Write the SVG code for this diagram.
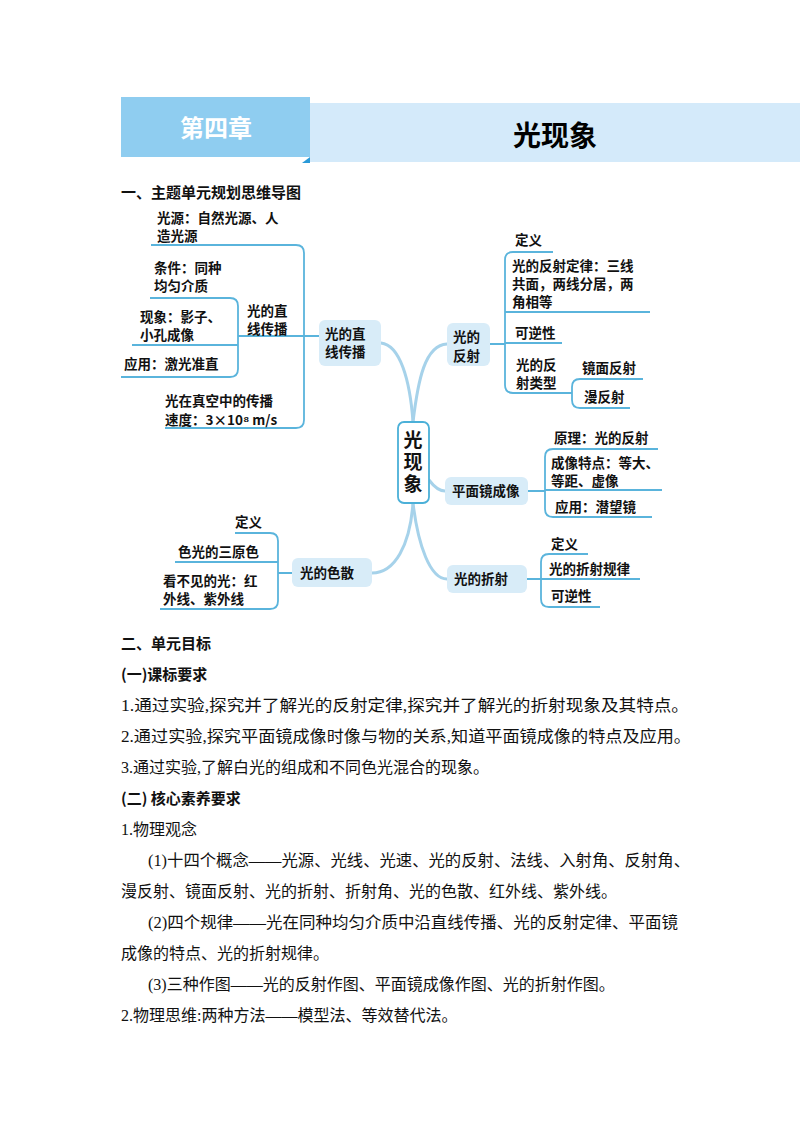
<svg xmlns="http://www.w3.org/2000/svg" width="800" height="1132" viewBox="0 0 800 1132">
<style>
.t{font-family:"Noto Sans CJK SC",sans-serif;font-size:13.5px;font-weight:bold;fill:#111}
.b{font-family:"Liberation Serif","Noto Sans CJK SC",serif;font-size:16px;fill:#111}
.h{font-family:"Noto Sans CJK SC",sans-serif;font-size:15px;font-weight:bold;fill:#111}
.c{font-family:"Noto Sans CJK SC",sans-serif;font-size:19px;font-weight:bold;fill:#111}
.ln{fill:none;stroke:#5ab4dc;stroke-width:1.8}
.br{fill:none;stroke:#a6d2ea;stroke-width:3;stroke-linecap:round}
.nd{fill:#d8ecf8}
</style>
<rect width="800" height="1132" fill="#fff"/>
<g id="header">
<rect x="310" y="103" width="490" height="59" fill="#d4eafa"/>
<rect x="121" y="97" width="189" height="60" fill="#8fcdf0"/>
<polygon points="302,163 310,157 310,163" fill="#2a9ad8"/>
<text x="216" y="137" text-anchor="middle" font-family="Noto Sans CJK SC,sans-serif" font-size="24" font-weight="bold" fill="#fff">第四章</text>
<text x="555" y="146" text-anchor="middle" font-family="Noto Sans CJK SC,sans-serif" font-size="28" font-weight="bold" fill="#000">光现象</text>
</g>
<text class="h" x="121" y="198">一、主题单元规划思维导图</text>
<g id="connectors">
<path class="br" d="M413,422 C410,380 400,345 381,343"/>
<path class="br" d="M413,422 C418,380 425,345 447,344"/>
<path class="br" d="M429,480 C435,488 440,491 445,491"/>
<path class="br" d="M413,503 C410,545 395,573 372,573"/>
<path class="br" d="M413,503 C418,545 430,579 447,579"/>
<path class="ln" d="M381,336 H304 M151,245 H296 Q304,245 304,253 V420 Q304,428 296,428 H165"/>
<path class="ln" d="M150,298 H230 Q238,298 238,306 V369 Q238,377 230,377 H121 M132,345 H238 M238,336 H304"/>
<path class="ln" d="M490,344 H505 M553,252 H513 Q505,252 505,260 V385 Q505,393 513,393 H572 M505,312 H650 M505,343 H562"/>
<path class="ln" d="M643,379 H580 Q572,379 572,387 V400 Q572,408 580,408 H630"/>
<path class="ln" d="M528,491 H545 M658,449 H553 Q545,449 545,457 V509 Q545,517 553,517 H652 M545,490 H662"/>
<path class="ln" d="M527,579 H541 M588,554 H549 Q541,554 541,562 V599 Q541,607 549,607 H600 M541,579 H640"/>
<path class="ln" d="M292,573 H278 M235,533 H270 Q278,533 278,541 V601 Q278,609 270,609 H160 M175,562 H278"/>
</g>
<g id="n-center"><rect x="398" y="422" width="31" height="81" rx="6" fill="#fff" stroke="#4bb0d8" stroke-width="1.8"/>
<text class="c" x="413" y="430" writing-mode="vertical-rl" letter-spacing="3">光现象</text></g>
<g id="n-line"><rect class="nd" x="319" y="320" width="62" height="46" rx="6"/><text class="t" x="325" y="339">光的直</text><text class="t" x="325" y="357">线传播</text>
<text class="t" x="157" y="223">光源：自然光源、人</text><text class="t" x="157" y="241">造光源</text>
<text class="t" x="154" y="273">条件：同种</text><text class="t" x="154" y="291">均匀介质</text>
<text class="t" x="140" y="322">现象：影子、</text><text class="t" x="140" y="340">小孔成像</text>
<text class="t" x="124" y="369">应用：激光准直</text>
<text class="t" x="247" y="316">光的直</text><text class="t" x="247" y="334">线传播</text>
<text class="t" x="165" y="406">光在真空中的传播</text><text class="t" x="165" y="425">速度：3×10⁸ m/s</text></g>
<g id="n-refl"><rect class="nd" x="447" y="323" width="43" height="43" rx="6"/><text class="t" x="453" y="342">光的</text><text class="t" x="453" y="361">反射</text>
<text class="t" x="515" y="245">定义</text>
<text class="t" x="512" y="271">光的反射定律：三线</text><text class="t" x="512" y="289">共面，两线分居，两</text><text class="t" x="512" y="307">角相等</text>
<text class="t" x="515" y="338">可逆性</text>
<text class="t" x="516" y="370">光的反</text><text class="t" x="516" y="388">射类型</text>
<text class="t" x="582" y="373">镜面反射</text><text class="t" x="584" y="402">漫反射</text></g>
<g id="n-mirror"><rect class="nd" x="445" y="477" width="83" height="28" rx="6"/><text class="t" x="452" y="496">平面镜成像</text>
<text class="t" x="554" y="443">原理：光的反射</text><text class="t" x="551" y="468">成像特点：等大、</text><text class="t" x="551" y="486">等距、虚像</text><text class="t" x="555" y="512">应用：潜望镜</text></g>
<g id="n-refr"><rect class="nd" x="447" y="565" width="80" height="28" rx="6"/><text class="t" x="454" y="584">光的折射</text>
<text class="t" x="551" y="549">定义</text><text class="t" x="549" y="574">光的折射规律</text><text class="t" x="551" y="601">可逆性</text></g>
<g id="n-disp"><rect class="nd" x="292" y="558" width="80" height="29" rx="6"/><text class="t" x="300" y="578">光的色散</text>
<text class="t" x="235" y="527">定义</text><text class="t" x="178" y="557">色光的三原色</text><text class="t" x="163" y="586">看不见的光：红</text><text class="t" x="163" y="604">外线、紫外线</text></g>
<text class="h" x="121" y="649">二、单元目标</text>
<text class="h" x="121" y="680">(一)课标要求</text>
<text class="b" x="121" y="711" textLength="568" lengthAdjust="spacingAndGlyphs">1.通过实验,探究并了解光的反射定律,探究并了解光的折射现象及其特点。</text>
<text class="b" x="121" y="742" textLength="570" lengthAdjust="spacingAndGlyphs">2.通过实验,探究平面镜成像时像与物的关系,知道平面镜成像的特点及应用。</text>
<text class="b" x="121" y="773">3.通过实验,了解白光的组成和不同色光混合的现象。</text>
<text class="h" x="121" y="804">(二) 核心素养要求</text>
<text class="b" x="121" y="835">1.物理观念</text>
<text class="b" x="148" y="866" textLength="542" lengthAdjust="spacingAndGlyphs">(1)十四个概念——光源、光线、光速、光的反射、法线、入射角、反射角、</text>
<text class="b" x="121" y="897">漫反射、镜面反射、光的折射、折射角、光的色散、红外线、紫外线。</text>
<text class="b" x="148" y="928" textLength="530" lengthAdjust="spacingAndGlyphs">(2)四个规律——光在同种均匀介质中沿直线传播、光的反射定律、平面镜</text>
<text class="b" x="121" y="959">成像的特点、光的折射规律。</text>
<text class="b" x="148" y="990">(3)三种作图——光的反射作图、平面镜成像作图、光的折射作图。</text>
<text class="b" x="121" y="1021">2.物理思维:两种方法——模型法、等效替代法。</text>
</svg>
